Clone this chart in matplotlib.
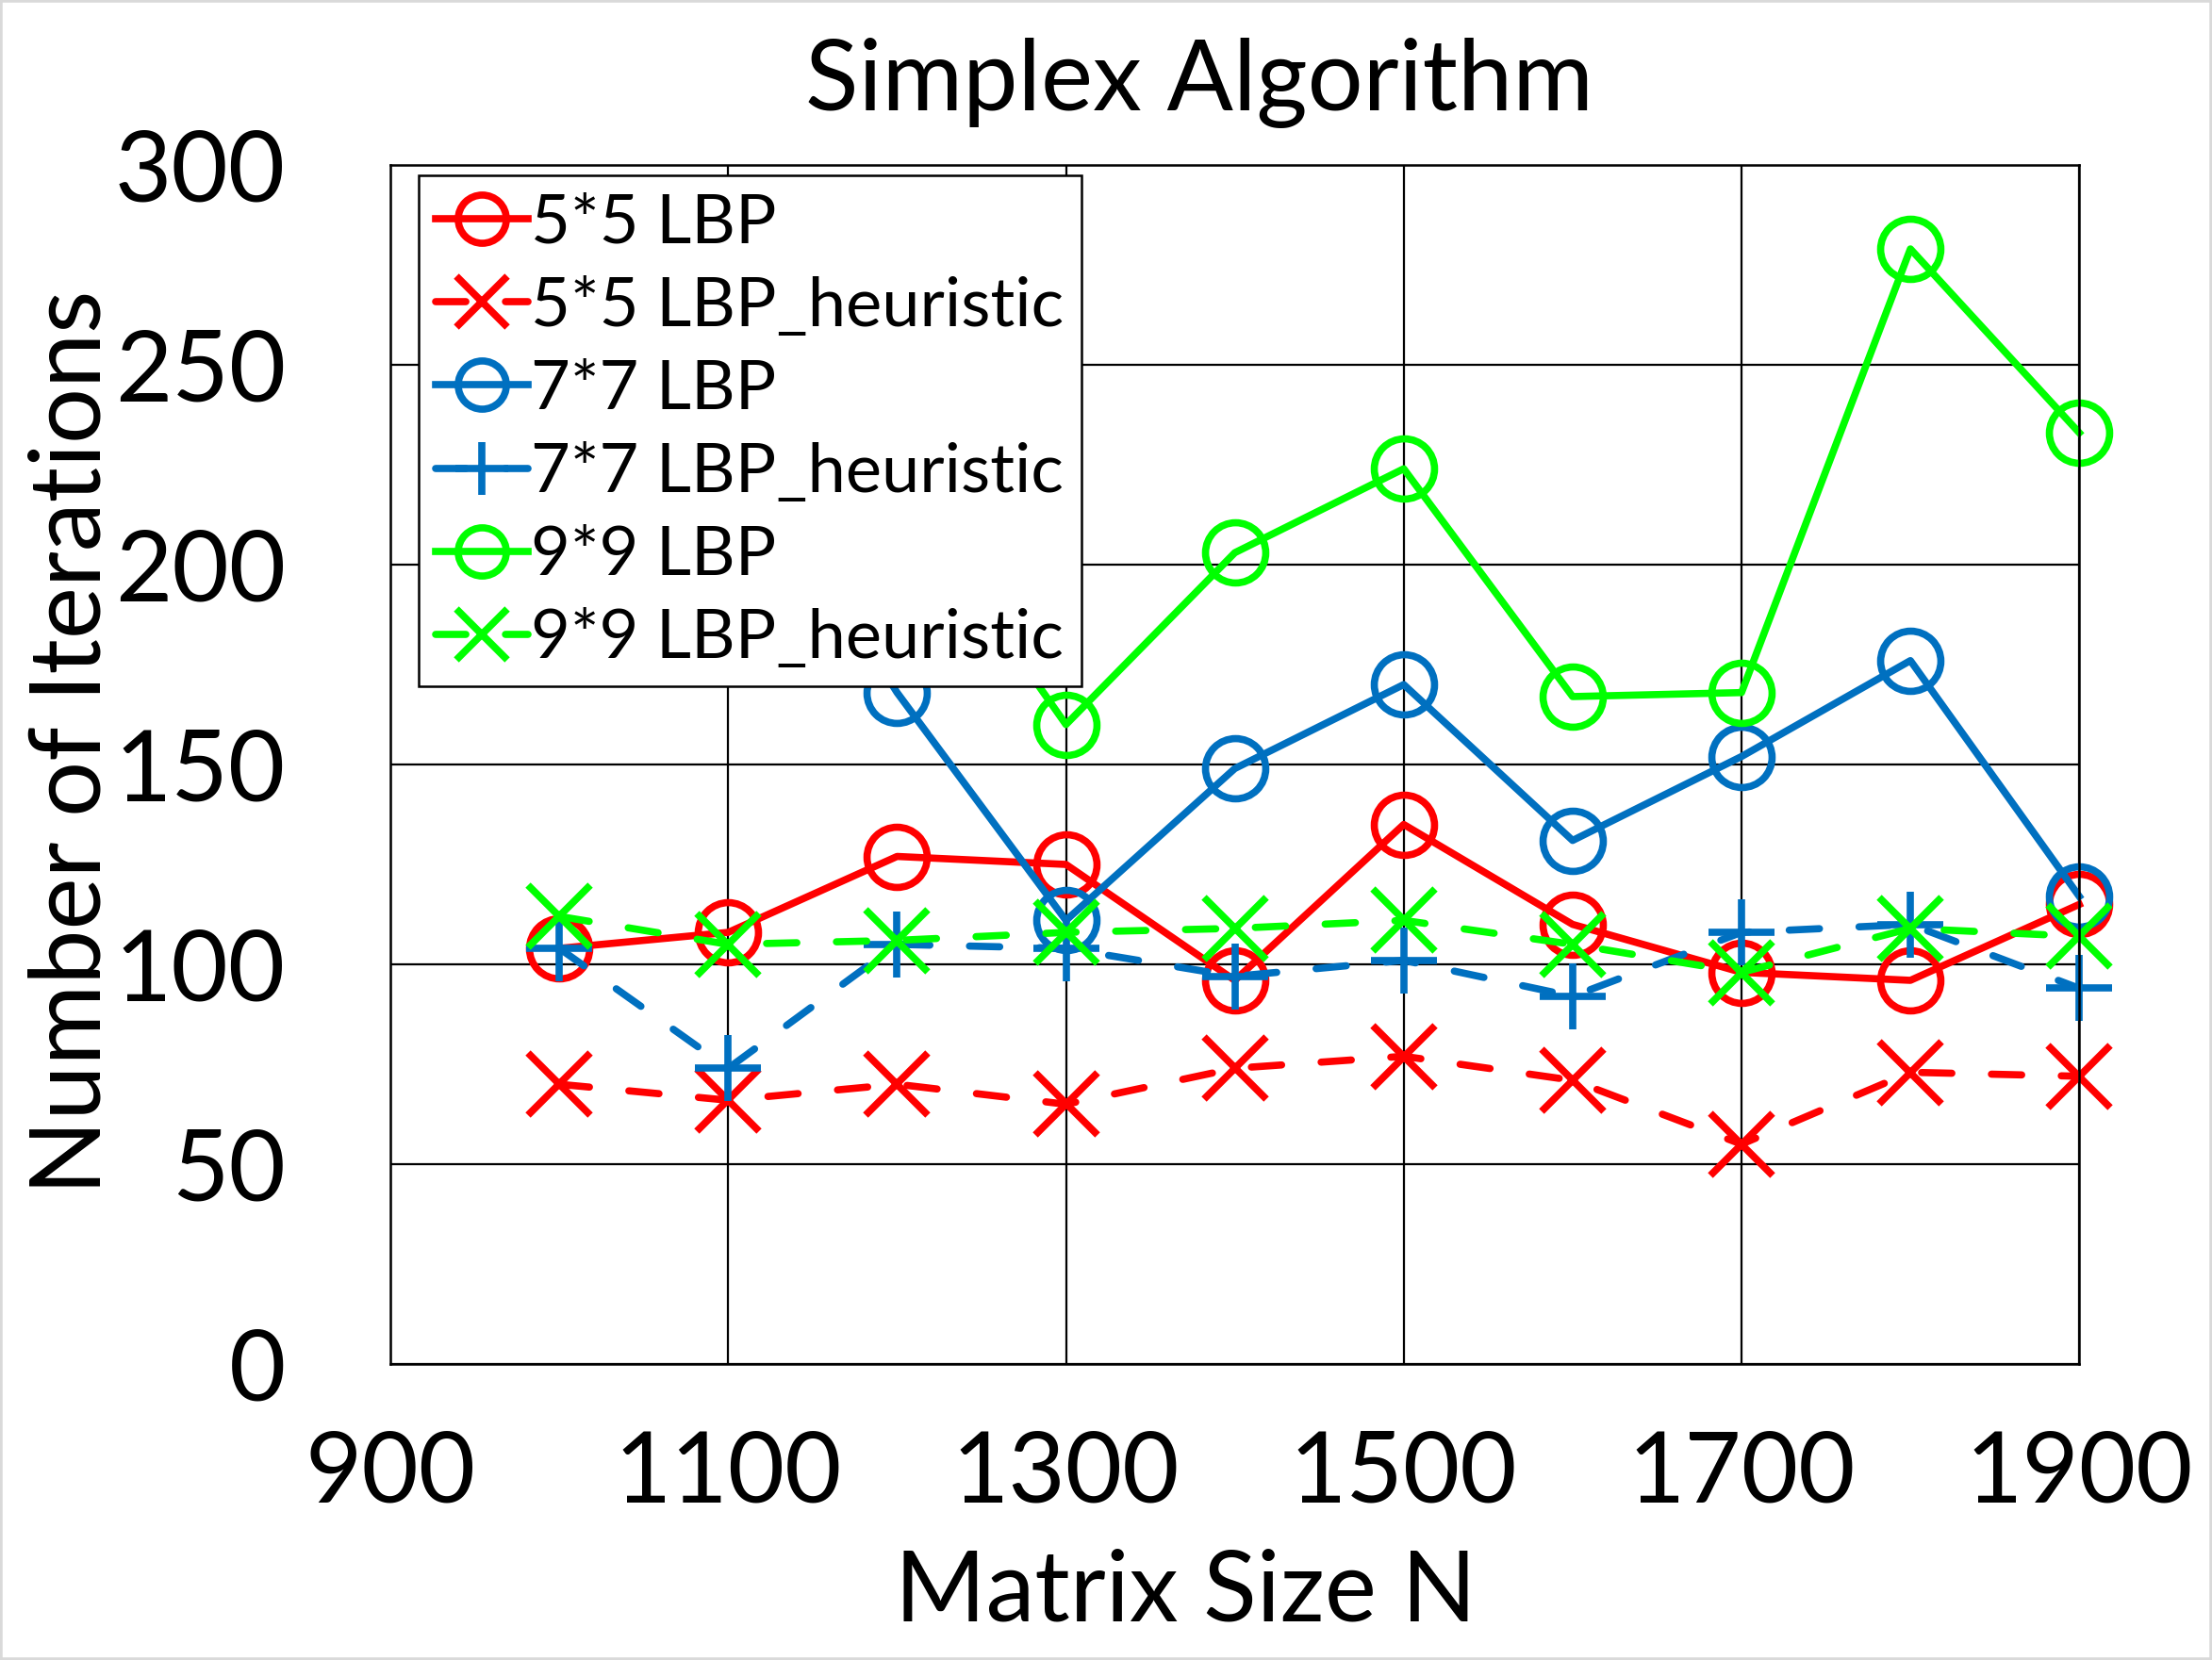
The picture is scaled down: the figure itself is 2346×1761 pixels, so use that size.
import matplotlib
matplotlib.use("Agg")
import matplotlib.pyplot as plt
from matplotlib.patches import Rectangle

plt.rcParams['font.family'] = ['Lato', 'DejaVu Sans']

sizes = [1000, 1100, 1200, 1300, 1400, 1500, 1600, 1700, 1800, 1900]

lbp5 = [104, 108, 127, 125, 96, 135, 110, 98, 96, 115]
lbp5_heur = [70, 66, 70, 65, 74, 77, 71, 55, 73, 72]
lbp7 = [210, 235, 168, 111, 149, 170, 131, 152, 176, 117]
lbp7_heur = [104, 74, 105, 104, 97, 101, 92, 108, 110, 94]
lbp9 = [205, 215, 220, 160, 203, 224, 167, 168, 279, 233]
lbp9_heur = [112, 105, 106, 108, 109, 111, 105, 98, 109, 107]

labels = ["5*5 LBP", "5*5 LBP_heuristic", "7*7 LBP", "7*7 LBP_heuristic",
          "9*9 LBP", "9*9 LBP_heuristic"]
xticks = [900, 1100, 1300, 1500, 1700, 1900]
yticks = [0, 50, 100, 150, 200, 250, 300]

RED = "#ff0000"
BLUE = "#0070c0"
GREEN = "#00ff00"

fig = plt.figure(figsize=(23.46, 17.61), dpi=100)
ax = fig.add_axes([0.1765, 0.1783, 0.7635, 0.7223])

lw = 5.5
dash = (0, (4.2, 5.5))
common = dict(linewidth=lw, markeredgewidth=5.5, dash_capstyle='round', clip_on=False)

ax.plot(sizes, lbp5, color=RED, marker='o', markersize=46, markerfacecolor='none',
        label=labels[0], **common)
ax.plot(sizes, lbp5_heur, color=RED, marker='x', markersize=48, linestyle=dash,
        label=labels[1], **common)
ax.plot(sizes, lbp7, color=BLUE, marker='o', markersize=46, markerfacecolor='none',
        label=labels[2], **common)
ax.plot(sizes, lbp7_heur, color=BLUE, marker='+', markersize=50, linestyle=dash,
        label=labels[3], **common)
ax.plot(sizes, lbp9, color=GREEN, marker='o', markersize=46, markerfacecolor='none',
        label=labels[4], **common)
ax.plot(sizes, lbp9_heur, color=GREEN, marker='x', markersize=48, linestyle=dash,
        label=labels[5], **common)

ax.set_xlim(900, 1900)
ax.set_ylim(0, 300)
ax.set_xticks(xticks)
ax.set_yticks(yticks)
ax.tick_params(axis='both', length=0, labelsize=75)
ax.tick_params(axis='y', pad=80)
ax.tick_params(axis='x', pad=50)
ax.grid(True, color='black', linewidth=1.6)
ax.set_axisbelow(True)
for s in ax.spines.values():
    s.set_color('black')
    s.set_linewidth(1.8)

leg = ax.legend(loc='upper left', bbox_to_anchor=(0.0168, 0.991), fontsize=52,
                frameon=True, fancybox=False, framealpha=1, edgecolor='black',
                handlelength=1.35, handletextpad=0.05, labelspacing=0.32,
                borderpad=0.25, borderaxespad=0, markerscale=0.8)
leg.get_frame().set_linewidth(1.8)
leg.set_zorder(10)

fig.text(0.542, 0.9336, "Simplex Algorithm", ha='center', va='baseline', fontsize=75)
fig.text(0.536, 0.0233, "Matrix Size N", ha='center', va='baseline', fontsize=75)
fig.text(0.033, 0.553, "Number of Iterations", ha='center', va='center',
         rotation=90, fontsize=75)

fig.patches.append(Rectangle((0, 0), 1, 1, transform=fig.transFigure, fill=False,
                             edgecolor='#d9d9d9', linewidth=4))

fig.savefig("out.png", dpi=100)
